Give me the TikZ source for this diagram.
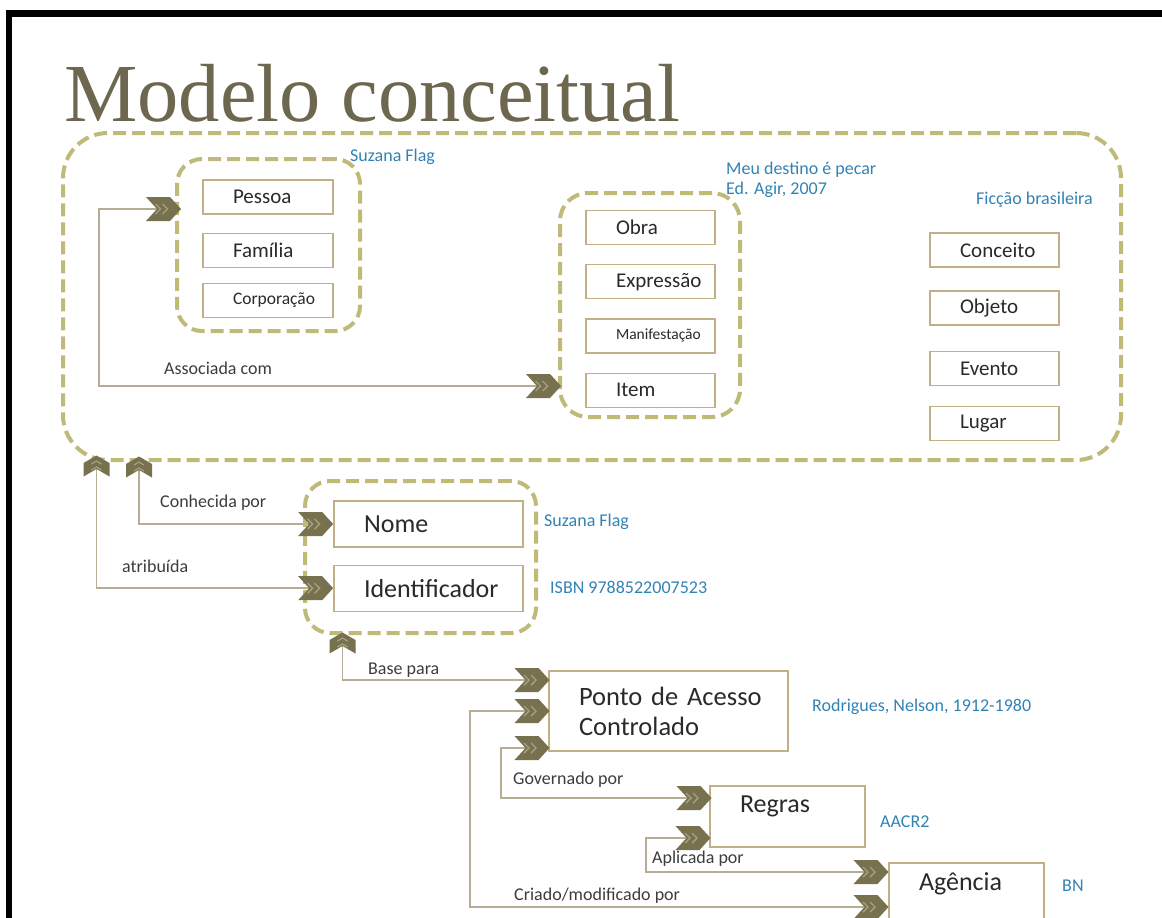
\documentclass[tikz,border=0pt]{standalone}
\usepackage{fontspec}
\setmainfont{Carlito}
\newfontfamily\titlefont{Liberation Serif}
\usepackage{tikz}
\usetikzlibrary{shapes.symbols, positioning, backgrounds}
\definecolor{titleOlive}{HTML}{6C674E}
\definecolor{dashKhaki}{HTML}{BFBA78}
\definecolor{boxTan}{HTML}{C2AF88}
\definecolor{lineTan}{HTML}{B5AE94}
\definecolor{chevDark}{HTML}{77714F}
\definecolor{chevLite}{HTML}{A5A07E}
\definecolor{noteBlue}{HTML}{3282B4}
\definecolor{textDark}{HTML}{2A2A2A}
\definecolor{lblGray}{HTML}{3C3C3C}
\tikzstyle{grpbox} = [rectangle, draw=dashKhaki, line width=4pt, dash pattern=on 13pt off 6pt,
  rounded corners=25pt]
\tikzstyle{entbox} = [rectangle, draw=boxTan, line width=1.2pt, fill=white, inner xsep=30pt,
  inner ysep=0pt, align=left, text=textDark, font=\fontsize{21}{24}\selectfont]
\tikzstyle{bigbox} = [entbox, font=\fontsize{26}{30}\selectfont]
\tikzstyle{lbl} = [anchor=west, inner sep=0pt, text=lblGray, font=\fontsize{18}{20}\selectfont]
\tikzstyle{note} = [anchor=west, inner sep=0pt, align=left, text=noteBlue, font=\fontsize{18}{20}\selectfont]
\tikzstyle{conn} = [draw=lineTan, line width=1.5pt]
\tikzstyle{chev} = [signal, signal to=east, signal from=west, signal pointer angle=95,
  fill=chevDark, minimum width=35pt, minimum height=24pt, inner sep=0pt,
  path picture={\foreach \dx in {-8pt,-1pt}
    \draw[chevLite, line width=1.4pt] ([shift={(\dx,5pt)}]path picture bounding box.center)
      -- ++(5pt,-5pt) -- ++(-5pt,-5pt);}]
\tikzstyle{chevup} = [signal, signal to=north, signal from=south, signal pointer angle=120,
  fill=chevDark, minimum width=26pt, minimum height=6pt, inner sep=0pt,
  path picture={\foreach \dy in {-4pt,2pt}
    \draw[chevLite, line width=1.2pt] ([shift={(-5pt,\dy)}]path picture bounding box.center)
      -- ++(5pt,3pt) -- ++(5pt,-3pt);}]

\begin{document}
\begin{tikzpicture}[x=1pt, y=-1pt]
  \useasboundingbox (0,0) rectangle (1162,918);
  % Frame
  \fill[black] (6,10) rectangle (1162,17);
  \fill[black] (6,10) rectangle (12,918);

  % Title
  \node[anchor=base west, inner sep=0pt, text=titleOlive, font=\titlefont\fontsize{82.5}{90}\selectfont] (title) at (64,121) {Modelo conceitual};

  % Containers
  \node[grpbox, rounded corners=45pt, minimum width=1058pt, minimum height=327pt] (conc) at (592,296.5) {};
  \node[grpbox, minimum width=183pt, minimum height=172pt] (pgrp) at (268.5,245) {};
  \node[grpbox, rounded corners=28pt, minimum width=180pt, minimum height=224pt] (wgrp) at (650,305) {};
  \node[grpbox, minimum width=231pt, minimum height=152pt] (ngrp) at (420.5,557) {};

  % Group 1: agents
  \node[entbox, minimum width=130pt, minimum height=34pt, text width=70pt] (pessoa) at (268,197) {Pessoa};
  \node[entbox, minimum width=130pt, minimum height=34pt, text width=70pt, below=18pt of pessoa] (familia) {Família};
  \node[entbox, minimum width=130pt, minimum height=34pt, text width=70pt, below=15pt of familia,
    font=\fontsize{17.5}{20}\selectfont] (corp) {Corporação};

  % Group 2: works
  \node[entbox, minimum width=129pt, minimum height=34pt, text width=69pt] (obra) at (650.5,227.5) {Obra};
  \node[entbox, minimum width=129pt, minimum height=34pt, text width=69pt, below=19pt of obra] (expr) {Expressão};
  \node[entbox, minimum width=129pt, minimum height=34pt, text width=69pt, below=19pt of expr,
    font=\fontsize{15.5}{18}\selectfont] (manif) {Manifestação};
  \node[entbox, minimum width=129pt, minimum height=34pt, text width=69pt, below=19pt of manif] (item) {Item};

  % Group 3: subjects
  \node[entbox, minimum width=129pt, minimum height=34pt, text width=69pt] (conceito) at (994.5,250) {Conceito};
  \node[entbox, minimum width=129pt, minimum height=34pt, text width=69pt] (objeto) at (994.5,308) {Objeto};
  \node[entbox, minimum width=129pt, minimum height=34pt, text width=69pt] (evento) at (994.5,368.5) {Evento};
  \node[entbox, minimum width=129pt, minimum height=34pt, text width=69pt] (lugar) at (994.5,423.5) {Lugar};

  % Names and access points
  \node[bigbox, minimum width=189pt, minimum height=46pt, text width=129pt] (nome) at (428.5,524) {Nome};
  \node[bigbox, minimum width=189pt, minimum height=46pt, text width=129pt, below=17pt of nome] (ident) {Identificador};
  \node[bigbox, minimum width=239pt, minimum height=80pt, text width=179pt,
    font=\fontsize{26.5}{30}\selectfont] (ponto) at (668.5,711) {\mbox{Ponto de Acesso}\\Controlado};
  \node[bigbox, minimum width=155pt, minimum height=61pt, text width=95pt, text depth=24pt] (regras) at (787.5,816.5) {Regras};
  \node[bigbox, minimum width=155pt, minimum height=61pt, text width=95pt, text depth=24pt] (agencia) at (966.5,893.5) {Agência};

  % Chevrons
  \node[chev] (chP) at (163.5,209) {};
  \node[chev] (chI) at (543.5,386) {};
  \node[chev, left=0pt of nome] (chN) {};
  \node[chev, left=0pt of ident] (chId) {};
  \node[chev] (chA1) at (532,680) {};
  \node[chev] (chA2) at (532,711) {};
  \node[chev] (chA3) at (532,748) {};
  \node[chev] (chR1) at (694,798) {};
  \node[chev] (chR2) at (693,838) {};
  \node[chev] (chG1) at (871,872) {};
  \node[chev] (chG2) at (871,907) {};
  \node[chevup] (cu1) at (96.5,466) {};
  \node[chevup] (cu2) at (139,467) {};
  \node[chevup] (cu3) at (342.5,643) {};

  % Connectors
  \begin{scope}[on background layer]
    \draw[conn] (chP.west) -- ++(-57.5,0) |- (chI.west);
    \draw[conn] (cu2.south) |- (chN.west);
    \draw[conn] (cu1.south) |- (chId.west);
    \draw[conn] (cu3.south) |- (chA1.west);
    \draw[conn] (chA3.west) -- ++(-24,0) |- (chR1.west);
    \draw[conn] (chA2.west) -- ++(-55,0) |- (chG2.west);
    \draw[conn] (chR2.west) -- ++(-40,0) |- (chG1.west);
  \end{scope}

  % Connector labels
  \node[lbl] (lAssoc) at (164,368) {Associada com};
  \node[lbl] (lConh) at (160,503) {Conhecida por};
  \node[lbl] (lAtri) at (122,566) {atribuída};
  \node[lbl] (lBase) at (368,670) {Base para};
  \node[lbl] (lGov) at (513,780) {Governado por};
  \node[lbl] (lApl) at (652,859) {Aplicada por};
  \node[lbl] (lCri) at (514,896) {Criado/modificado por};

  % Examples
  \node[note] (nSuz1) at (350,157) {Suzana Flag};
  \node[note] (nMeu) at (726,180) {Meu destino é pecar\\Ed. Agir, 2007};
  \node[note] (nFic) at (976,200) {Ficção brasileira};
  \node[note] (nSuz2) at (544,522) {Suzana Flag};
  \node[note] (nIsbn) at (550,587) {ISBN 9788522007523};
  \node[note] (nRod) at (812,707) {Rodrigues, Nelson, 1912-1980};
  \node[note] (nAacr) at (880,822) {AACR2};
  \node[note] (nBn) at (1062,886) {BN};
\end{tikzpicture}
\end{document}
